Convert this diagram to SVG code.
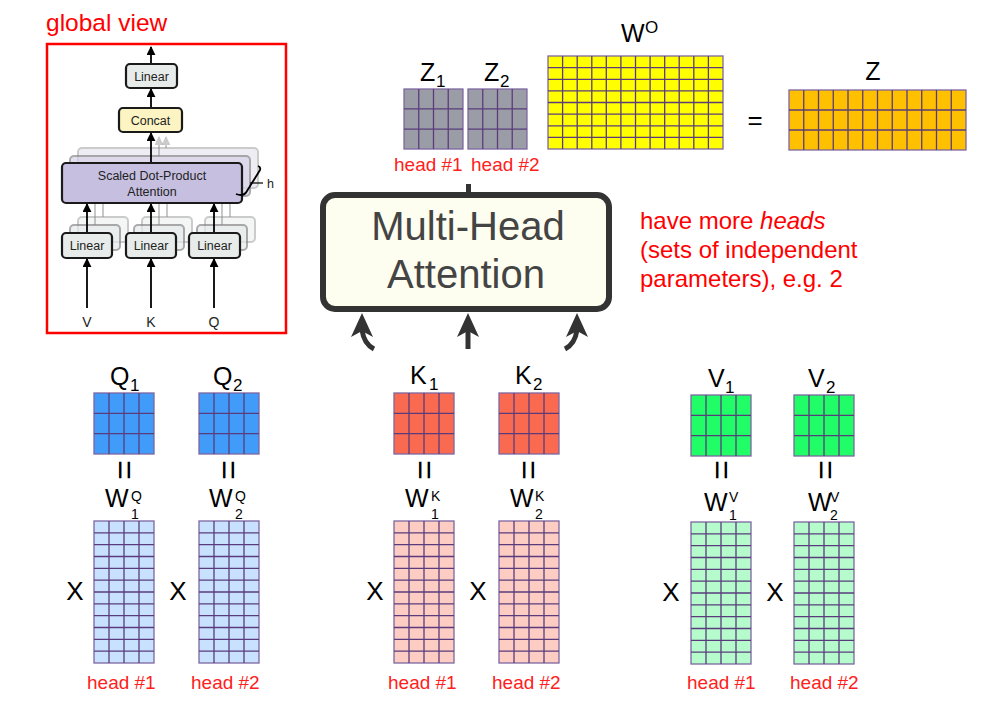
<svg xmlns="http://www.w3.org/2000/svg" xmlns:xlink="http://www.w3.org/1999/xlink" width="981" height="702" viewBox="0 0 981 702">
<style>
text{font-family:"Liberation Sans",Arial,sans-serif}
.big{font-size:25px;fill:#000}
.sub{font-size:17px;fill:#000}
.sup{font-size:14px;fill:#000}
.x{font-size:26px;fill:#000}
.head{font-size:19px;fill:#ff2020}
.red{font-size:24px;fill:#ff0000}
.grid{fill:none;stroke:#5a3c7c;stroke-width:1.3}
.frame{fill:none;stroke:#7d66a0;stroke-width:1.3}
.eq{font-size:26px;fill:#000}
.eqv{font-size:34px;fill:#000}
.gv{font-size:12.5px;fill:#222}
.box{stroke:#1a1a1a;stroke-width:2.2}
.wire{stroke:#000;stroke-width:1.8;fill:none}
.ghost{stroke:#888;stroke-width:1.8;fill:none;opacity:.5}
</style>
<defs>
<marker id="ah" viewBox="0 0 10 10" refX="9" refY="5" markerWidth="5" markerHeight="5" orient="auto">
<path d="M0 0L10 5L0 10z" fill="#000"/>
</marker>
<marker id="ahg" viewBox="0 0 10 10" refX="9" refY="5" markerWidth="5" markerHeight="5" orient="auto">
<path d="M0 0L10 5L0 10z" fill="#999"/>
</marker>
<g id="gs">
<rect x="0" y="0" width="60" height="61" class="frame"/>
<path class="grid" d="M15 0V61M30 0V61M45 0V61M0 20.3H60M0 40.7H60"/>
</g>
<g id="gt">
<rect x="0" y="0" width="60" height="142" class="frame"/>
<path class="grid" d="M15 0V142M30 0V142M45 0V142M0 11.8H60M0 23.7H60M0 35.5H60M0 47.3H60M0 59.2H60M0 71H60M0 82.8H60M0 94.7H60M0 106.5H60M0 118.3H60M0 130.2H60"/>
</g>
</defs>
<rect width="981" height="702" fill="#fff"/>

<g id="global-view">
<text x="46" y="31" fill="#ff0000" style="font-size:24.5px">global view</text>
<rect x="47" y="44" width="239" height="289" fill="none" stroke="#ff0000" stroke-width="2.5"/>
<rect x="78" y="148" width="180" height="40" rx="4" fill="#e4e2ee" stroke="#aaa" stroke-width="2" opacity=".6"/>
<rect x="70" y="156" width="180" height="40" rx="4" fill="#d6d1e8" stroke="#888" stroke-width="2" opacity=".7"/>
<rect x="78" y="217" width="50" height="25" rx="4" fill="#eef0f0" stroke="#aaa" stroke-width="2" opacity=".6"/>
<rect x="70" y="225" width="50" height="25" rx="4" fill="#e6eaea" stroke="#888" stroke-width="2" opacity=".7"/>
<rect x="142" y="217" width="50" height="25" rx="4" fill="#eef0f0" stroke="#aaa" stroke-width="2" opacity=".6"/>
<rect x="134" y="225" width="50" height="25" rx="4" fill="#e6eaea" stroke="#888" stroke-width="2" opacity=".7"/>
<rect x="205" y="217" width="50" height="25" rx="4" fill="#eef0f0" stroke="#aaa" stroke-width="2" opacity=".6"/>
<rect x="197" y="225" width="50" height="25" rx="4" fill="#e6eaea" stroke="#888" stroke-width="2" opacity=".7"/>
<path class="ghost" d="M95 225V196M103 217V188M159 225V196M167 217V188M222 225V196M230 217V188"/>
<path class="ghost" d="M159 156V137" marker-end="url(#ahg)"/>
<path class="ghost" d="M166 148V137" marker-end="url(#ahg)" opacity=".35"/>
<path class="wire" d="M151 64V47" marker-end="url(#ah)"/>
<path class="wire" d="M151 108V89" marker-end="url(#ah)"/>
<path class="wire" d="M151 163V133" marker-end="url(#ah)"/>
<path class="wire" d="M87 233V204" marker-end="url(#ah)"/>
<path class="wire" d="M151 233V204" marker-end="url(#ah)"/>
<path class="wire" d="M214 233V204" marker-end="url(#ah)"/>
<path class="wire" d="M87 308V259" marker-end="url(#ah)"/>
<path class="wire" d="M151 308V259" marker-end="url(#ah)"/>
<path class="wire" d="M214 308V259" marker-end="url(#ah)"/>
<rect x="126" y="64" width="51" height="24" rx="4" fill="#e7ecea" class="box"/>
<text x="151.5" y="80.5" text-anchor="middle" class="gv">Linear</text>
<rect x="119" y="108" width="63" height="24" rx="4" fill="#fcf4c2" class="box"/>
<text x="150.5" y="124.5" text-anchor="middle" class="gv">Concat</text>
<rect x="62" y="163" width="180" height="40" rx="4" fill="#c6bfe0" class="box"/>
<text x="152" y="179.5" text-anchor="middle" class="gv">Scaled Dot-Product</text>
<text x="152" y="196" text-anchor="middle" class="gv">Attention</text>
<path d="M236 194Q244 197 247 191L260 170Q261 167 258 166" fill="none" stroke="#000" stroke-width="1.8"/>
<path d="M250 183H263" stroke="#000" stroke-width="1.2"/>
<text x="267" y="188" class="gv">h</text>
<rect x="62" y="233" width="50" height="25" rx="4" fill="#e7ecea" class="box"/>
<text x="87" y="250" text-anchor="middle" class="gv">Linear</text>
<rect x="126" y="233" width="50" height="25" rx="4" fill="#e7ecea" class="box"/>
<text x="151" y="250" text-anchor="middle" class="gv">Linear</text>
<rect x="189" y="233" width="51" height="25" rx="4" fill="#e7ecea" class="box"/>
<text x="214.5" y="250" text-anchor="middle" class="gv">Linear</text>
<text x="87" y="327" text-anchor="middle" class="gv" style="font-size:14px">V</text>
<text x="151" y="327" text-anchor="middle" class="gv" style="font-size:14px">K</text>
<text x="214" y="327" text-anchor="middle" class="gv" style="font-size:14px">Q</text>
</g>

<g id="z1">
<text x="420" y="81" class="big">Z</text><text x="436" y="87" class="sub">1</text>
<rect x="404" y="89" width="59" height="60" fill="#9a9ca6"/>
<use xlink:href="#gs" transform="translate(404 89) scale(0.983 0.984)"/>
<text x="394" y="171" class="head">head #1</text>
</g>
<g id="z2">
<text x="484" y="81" class="big">Z</text><text x="500" y="87" class="sub">2</text>
<rect x="468" y="89" width="59" height="60" fill="#9a9ca6"/>
<use xlink:href="#gs" transform="translate(468 89) scale(0.983 0.984)"/>
<text x="471" y="171" class="head">head #2</text>
</g>

<g id="wo">
<text x="621" y="42" class="big">W</text><text x="645" y="33" style="font-size:17px">O</text>
<rect x="548" y="56" width="175" height="93" fill="#ffff00"/>
<rect x="548" y="56" width="175" height="93" class="frame"/>
<path class="grid" d="M562.6 56V149M577.2 56V149M591.8 56V149M606.3 56V149M620.9 56V149M635.5 56V149M650.1 56V149M664.7 56V149M679.2 56V149M693.8 56V149M708.4 56V149M548 67.6H723M548 79.3H723M548 90.9H723M548 102.5H723M548 114.1H723M548 125.8H723M548 137.4H723"/>
</g>
<g id="equals-top">
<text x="755" y="129" text-anchor="middle" class="eq">=</text>
</g>
<g id="z">
<text x="873" y="80" text-anchor="middle" class="big">Z</text>
<rect x="789" y="90" width="177" height="60" fill="#ffc000"/>
<rect x="789" y="90" width="177" height="60" class="frame"/>
<path class="grid" d="M803.75 90V150M818.5 90V150M833.25 90V150M848 90V150M862.75 90V150M877.5 90V150M892.25 90V150M907 90V150M921.75 90V150M936.5 90V150M951.25 90V150M789 110H966M789 130H966"/>
</g>

<g id="multi-head">
<rect x="466" y="184" width="5" height="10" fill="#333"/>
<rect x="323" y="195" width="286" height="114" rx="12" fill="#fdfdf0" stroke="#333" stroke-width="6"/>
<text x="468" y="240" text-anchor="middle" fill="#444" style="font-size:40px">Multi-Head</text>
<text x="466" y="288" text-anchor="middle" fill="#444" style="font-size:40px">Attention</text>
</g>
<g id="connectors">
<path d="M374 349Q364 344 362 330" fill="none" stroke="#333" stroke-width="5"/>
<polygon points="362,313 373,337 362,331 351,337" fill="#333"/>
<path d="M468 349V330" fill="none" stroke="#333" stroke-width="5"/>
<polygon points="468,313 479,337 468,331 457,337" fill="#333"/>
<path d="M565 349Q575 344 577 330" fill="none" stroke="#333" stroke-width="5"/>
<polygon points="577,313 588,337 577,331 566,337" fill="#333"/>
</g>

<g id="note">
<text x="640" y="229" class="red">have more <tspan font-style="italic">heads</tspan></text>
<text x="640" y="258" class="red">(sets of independent</text>
<text x="640" y="287" class="red">parameters), e.g. 2</text>
</g>

<g id="q1">
<text x="110" y="385" class="big">Q</text><text x="130" y="391" class="sub">1</text>
<rect x="94" y="393" width="60" height="61" fill="#419bf9"/><use xlink:href="#gs" transform="translate(94 393)"/>
<text transform="translate(124 470) rotate(90)" text-anchor="middle" dy="11" class="eqv">=</text>
<text x="105" y="507" class="big">W</text><text x="131" y="501" class="sup">Q</text><text x="131" y="519" class="sup">1</text>
<rect x="94" y="521" width="60" height="142" fill="#c7e1ff"/><use xlink:href="#gt" transform="translate(94 521)"/>
<text x="75" y="600" text-anchor="middle" class="x">X</text>
<text x="87" y="689" class="head">head #1</text>
</g>
<g id="q2">
<text x="213" y="385" class="big">Q</text><text x="233" y="391" class="sub">2</text>
<rect x="199" y="393" width="60" height="61" fill="#419bf9"/><use xlink:href="#gs" transform="translate(199 393)"/>
<text transform="translate(228 470) rotate(90)" text-anchor="middle" dy="11" class="eqv">=</text>
<text x="209" y="507" class="big">W</text><text x="235" y="501" class="sup">Q</text><text x="235" y="519" class="sup">2</text>
<rect x="199" y="521" width="60" height="142" fill="#c7e1ff"/><use xlink:href="#gt" transform="translate(199 521)"/>
<text x="178" y="600" text-anchor="middle" class="x">X</text>
<text x="191" y="689" class="head">head #2</text>
</g>

<g id="k1">
<text x="410" y="384" class="big">K</text><text x="429" y="390" class="sub">1</text>
<rect x="394" y="393" width="60" height="61" fill="#fa6a50"/><use xlink:href="#gs" transform="translate(394 393)"/>
<text transform="translate(424 470) rotate(90)" text-anchor="middle" dy="11" class="eqv">=</text>
<text x="405" y="507" class="big">W</text><text x="431" y="501" class="sup">K</text><text x="431" y="519" class="sup">1</text>
<rect x="394" y="521" width="60" height="142" fill="#fdcdc4"/><use xlink:href="#gt" transform="translate(394 521)"/>
<text x="375" y="600" text-anchor="middle" class="x">X</text>
<text x="388" y="689" class="head">head #1</text>
</g>
<g id="k2">
<text x="515" y="384" class="big">K</text><text x="533" y="390" class="sub">2</text>
<rect x="499" y="393" width="60" height="61" fill="#fa6a50"/><use xlink:href="#gs" transform="translate(499 393)"/>
<text transform="translate(528 470) rotate(90)" text-anchor="middle" dy="11" class="eqv">=</text>
<text x="510" y="507" class="big">W</text><text x="535" y="501" class="sup">K</text><text x="535" y="519" class="sup">2</text>
<rect x="499" y="521" width="60" height="142" fill="#fdcdc4"/><use xlink:href="#gt" transform="translate(499 521)"/>
<text x="478" y="600" text-anchor="middle" class="x">X</text>
<text x="492" y="689" class="head">head #2</text>
</g>

<g id="v1">
<text x="708" y="387" class="big">V</text><text x="725" y="393" class="sub">1</text>
<rect x="691" y="395" width="60" height="61" fill="#20fd66"/><use xlink:href="#gs" transform="translate(691 395)"/>
<text transform="translate(721 470) rotate(90)" text-anchor="middle" dy="11" class="eqv">=</text>
<text x="704" y="511" class="big">W</text><text x="729" y="502" class="sup">V</text><text x="729" y="520" class="sup">1</text>
<rect x="691" y="522" width="60" height="142" fill="#b5fbcc"/><use xlink:href="#gt" transform="translate(691 522)"/>
<text x="671" y="601" text-anchor="middle" class="x">X</text>
<text x="687" y="689" class="head">head #1</text>
</g>
<g id="v2">
<text x="808" y="387" class="big">V</text><text x="826" y="393" class="sub">2</text>
<rect x="794" y="395" width="60" height="61" fill="#20fd66"/><use xlink:href="#gs" transform="translate(794 395)"/>
<text transform="translate(825 470) rotate(90)" text-anchor="middle" dy="11" class="eqv">=</text>
<text x="808" y="511" class="big">W</text><text x="830" y="502" class="sup">V</text><text x="830" y="520" class="sup">2</text>
<rect x="794" y="522" width="60" height="142" fill="#b5fbcc"/><use xlink:href="#gt" transform="translate(794 522)"/>
<text x="775" y="601" text-anchor="middle" class="x">X</text>
<text x="790" y="689" class="head">head #2</text>
</g>
</svg>
